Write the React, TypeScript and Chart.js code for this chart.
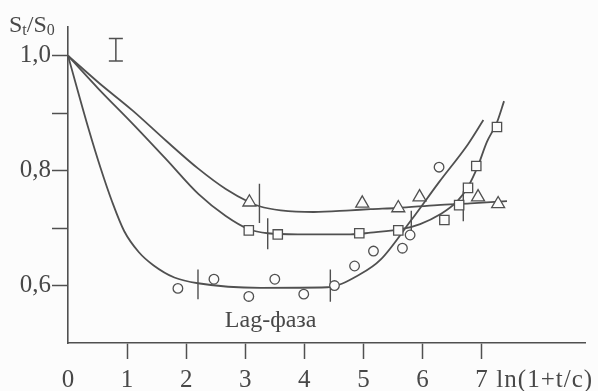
import { useEffect, useRef } from "react";
import { Chart, registerables } from "chart.js";

Chart.register(...registerables);

// ---- data ----
const xTickValues = [0, 1, 2, 3, 4, 5, 6, 7];
const yTickValues = [0.5, 0.6, 0.7, 0.8, 0.9, 1.0];
const yLabeledTicks = [0.6, 0.8, 1.0];

// measured points
const triX = [3.07, 4.98, 5.59, 5.95, 6.94, 7.28];
const triY = [0.745, 0.743, 0.735, 0.754, 0.754, 0.742];
const sqX = [3.06, 3.55, 4.93, 5.59, 6.37, 6.62, 6.77, 6.91, 7.26];
const sqY = [0.696, 0.689, 0.691, 0.696, 0.714, 0.74, 0.77, 0.808, 0.876];
const circX = [1.86, 2.47, 3.06, 3.5, 3.99, 4.51, 4.85, 5.17, 5.66, 5.79, 6.28];
const circY = [0.595, 0.611, 0.581, 0.611, 0.585, 0.6, 0.634, 0.66, 0.665, 0.688, 0.806];

// fitted curves
const triCurveX = [0, 0.52, 1.1, 1.66, 2.21, 2.67, 3.07, 3.24, 3.6, 4.16, 4.78, 5.12, 5.57, 6.25, 6.81, 7.43];
const triCurveY = [1.0, 0.953, 0.904, 0.852, 0.803, 0.768, 0.745, 0.738, 0.731, 0.728, 0.731, 0.733, 0.735, 0.74, 0.743, 0.747];
const sqCurveX = [0, 0.52, 1.1, 1.66, 2.21, 2.67, 3.06, 3.38, 3.89, 4.78, 5.12, 5.68, 5.96, 6.3, 6.59, 6.77, 6.93, 7.09, 7.26, 7.38];
const sqCurveY = [1.0, 0.942, 0.881, 0.82, 0.759, 0.721, 0.698, 0.691, 0.689, 0.689, 0.692, 0.699, 0.707, 0.724, 0.747, 0.772, 0.806, 0.85, 0.884, 0.921];
const circCurveX = [0, 0.35, 0.55, 0.75, 0.95, 1.2, 1.45, 1.8, 2.2, 3.26, 4.39, 4.95, 5.29, 5.81, 6.28, 6.77, 7.03];
const circCurveY = [1.0, 0.872, 0.805, 0.745, 0.695, 0.658, 0.635, 0.614, 0.604, 0.596, 0.597, 0.62, 0.645, 0.714, 0.78, 0.846, 0.888];

// phase boundary marks (vertical strokes)
const triMarkX = [3.24, 5.81];
const triMarkLow = [0.709, 0.686];
const triMarkHigh = [0.777, 0.73];
const sqMarkX = [3.38, 6.69];
const sqMarkLow = [0.663, 0.712];
const sqMarkHigh = [0.717, 0.764];
const circMarkX = [2.2, 4.44];
const circMarkLow = [0.576, 0.572];
const circMarkHigh = [0.628, 0.628];

// error bar ("I") and annotation
const errBarX = [0.81];
const errBarLow = [0.991];
const errBarHigh = [1.03];
const lagLabel = "Lag-фаза";
const lagLabelX = 3.43;
const lagLabelY = 0.539;
const xAxisTitle = "ln(1+t/c)";
const xAxisTitleAt = 7.25;

const INK = "#505050";
const TEXT = "#484848";
const BG = "#fcfcfc";
const FONT = "'Liberation Serif', 'Times New Roman', serif";

const pts = (xs: number[], ys: number[]) => xs.map((x, i) => ({ x, y: ys[i] }));
const marks = (xs: number[], lo: number[], hi: number[]) => {
  const out: { x: number; y: number | null }[] = [];
  xs.forEach((x, i) => {
    if (i > 0) out.push({ x, y: null });
    out.push({ x, y: lo[i] });
    out.push({ x, y: hi[i] });
  });
  return out;
};

const extrasPlugin = {
  id: "extras",
  afterDatasetsDraw(chart: any) {
    const { ctx, chartArea, scales } = chart;
    const xs = scales.x;
    const ys = scales.y;
    ctx.save();
    // error bar
    ctx.strokeStyle = INK;
    ctx.lineWidth = 1.5;
    errBarX.forEach((x, i) => {
      const px = xs.getPixelForValue(x);
      const p1 = ys.getPixelForValue(errBarLow[i]);
      const p2 = ys.getPixelForValue(errBarHigh[i]);
      const w = 7;
      ctx.beginPath();
      ctx.moveTo(px, p1);
      ctx.lineTo(px, p2);
      ctx.moveTo(px - w, p1);
      ctx.lineTo(px + w, p1);
      ctx.moveTo(px - w, p2);
      ctx.lineTo(px + w, p2);
      ctx.stroke();
    });
    ctx.fillStyle = TEXT;
    // Lag label
    ctx.font = `24px ${FONT}`;
    ctx.textAlign = "center";
    ctx.textBaseline = "middle";
    ctx.fillText(lagLabel, xs.getPixelForValue(lagLabelX), ys.getPixelForValue(lagLabelY));
    // x axis title
    ctx.font = `25px ${FONT}`;
    ctx.textAlign = "left";
    try {
      (ctx as any).letterSpacing = "1px";
    } catch (e) {}
    ctx.fillText(xAxisTitle, xs.getPixelForValue(xAxisTitleAt), chartArea.bottom + 37);
    try {
      (ctx as any).letterSpacing = "0px";
    } catch (e) {}
    // y axis title S_t/S_0
    ctx.textBaseline = "alphabetic";
    let x = chartArea.left - 59;
    const base = chartArea.top + 5;
    const big = `24px ${FONT}`;
    const small = `16px ${FONT}`;
    const parts: [string, boolean][] = [["S", false], ["t", true], ["/S", false], ["0", true]];
    parts.forEach(([t, sub]) => {
      ctx.font = sub ? small : big;
      ctx.fillText(t, x, base + (sub ? 3 : 0));
      x += ctx.measureText(t).width;
    });
    ctx.restore();
  },
};

const bgPlugin = {
  id: "bg",
  beforeDraw(chart: any) {
    const { ctx, width, height } = chart;
    ctx.save();
    ctx.fillStyle = BG;
    ctx.fillRect(0, 0, width, height);
    ctx.restore();
  },
};

export default function App() {
  const ref = useRef<HTMLCanvasElement | null>(null);
  useEffect(() => {
    if (!ref.current) return;
    const curve = (data: any) => ({
      type: "line" as const,
      data,
      borderColor: INK,
      borderWidth: 1.8,
      pointRadius: 0,
      fill: false,
      cubicInterpolationMode: "monotone" as const,
    });
    const markSet = (data: any) => ({
      type: "line" as const,
      data,
      borderColor: INK,
      borderWidth: 1.4,
      pointRadius: 0,
      tension: 0,
      spanGaps: false,
    });
    const scatter = (data: any, style: string, r: number) => ({
      type: "scatter" as const,
      data,
      showLine: false,
      pointStyle: style,
      pointRadius: r,
      pointBorderWidth: 1.3,
      pointBorderColor: INK,
      pointBackgroundColor: BG,
    });
    const chart = new Chart(ref.current, {
      type: "line",
      data: {
        datasets: [
          scatter(pts(triX, triY), "triangle", 7.5),
          scatter(pts(sqX, sqY), "rect", 6.6),
          scatter(pts(circX, circY), "circle", 4.8),
          curve(pts(triCurveX, triCurveY)),
          curve(pts(sqCurveX, sqCurveY)),
          curve(pts(circCurveX, circCurveY)),
          markSet(marks(triMarkX, triMarkLow, triMarkHigh)),
          markSet(marks(sqMarkX, sqMarkLow, sqMarkHigh)),
          markSet(marks(circMarkX, circMarkLow, circMarkHigh)),
        ] as any,
      },
      options: {
        responsive: false,
        animation: false,
        devicePixelRatio: 1,
        layout: { padding: { left: 0, top: 27, right: 13, bottom: 0 } },
        plugins: { legend: { display: false }, tooltip: { enabled: false } },
        scales: {
          x: {
            type: "linear",
            min: 0,
            max: 8.75,
            afterBuildTicks: (s: any) => {
              s.ticks = xTickValues.map((v) => ({ value: v }));
            },
            afterFit: (s: any) => {
              s.height = 48;
            },
            ticks: {
              color: TEXT,
              font: { family: FONT, size: 25 },
              padding: 6,
              maxRotation: 0,
              autoSkip: false,
              callback: (v: any) => String(v),
            },
            grid: {
              drawOnChartArea: false,
              drawTicks: true,
              tickLength: 16,
              tickWidth: 1.5,
              tickColor: (c: any) => (c.tick && c.tick.value === 0 ? "rgba(0,0,0,0)" : INK),
            },
            border: { color: INK, width: 1.6 },
          },
          y: {
            type: "linear",
            min: 0.5,
            max: 1.05,
            afterBuildTicks: (s: any) => {
              s.ticks = yTickValues.map((v) => ({ value: v }));
            },
            afterFit: (s: any) => {
              s.width = 68;
            },
            ticks: {
              color: TEXT,
              font: { family: FONT, size: 25 },
              padding: 1,
              autoSkip: false,
              callback: (v: any) =>
                yLabeledTicks.some((t) => Math.abs(t - v) < 1e-6) ? Number(v).toFixed(1).replace(".", ",") : "",
            },
            grid: {
              drawOnChartArea: false,
              drawTicks: true,
              tickLength: 16,
              tickWidth: 1.5,
              tickColor: (c: any) => (c.tick && Math.abs(c.tick.value - 0.5) < 1e-6 ? "rgba(0,0,0,0)" : INK),
            },
            border: { color: INK, width: 1.6 },
          },
        },
      },
      plugins: [bgPlugin, extrasPlugin],
    });
    return () => chart.destroy();
  }, []);
  return (
    <div style={{ position: "absolute", left: 0, top: 0, width: 598, height: 391, background: BG }}>
      <canvas ref={ref} width={598} height={391} style={{ display: "block" }} />
    </div>
  );
}
